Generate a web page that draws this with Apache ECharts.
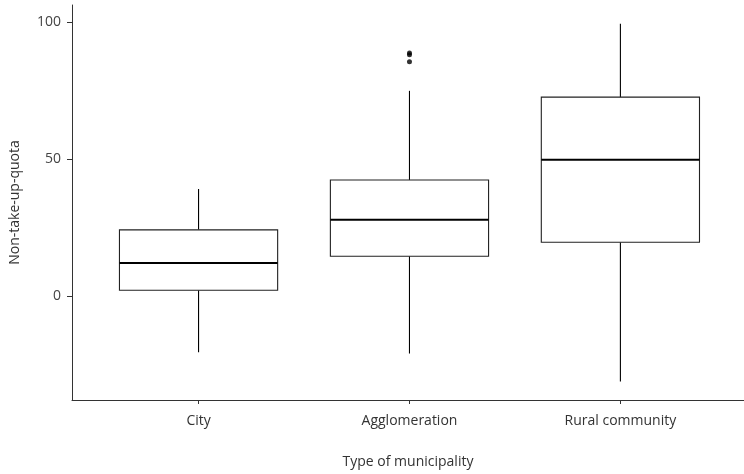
<!DOCTYPE html>
<html>
<head>
<meta charset="utf-8">
<script src="https://cdn.jsdelivr.net/npm/echarts@6/dist/echarts.min.js"></script>
<style>html,body{margin:0;padding:0;background:#fff}#c{width:744px;height:474px}</style>
</head>
<body>
<div id="c"></div>
<script>
var categories = ["City", "Agglomeration", "Rural community"];
var lowWhisker = [-20.3, -20.8, -31.0];
var q1 = [2.3, 14.7, 19.8];
var median = [12.2, 28.0, 49.9];
var q3 = [24.3, 42.5, 72.7];
var highWhisker = [39.2, 75.0, 99.5];
var outlierCategory = [2, 2, 2];
var outlierValue = [88.8, 88.2, 85.6];
var yTicks = [0, 50, 100];

var boxData = categories.map(function (c, i) {
  return [i + 1, lowWhisker[i], q1[i], median[i], q3[i], highWhisker[i]];
});
var outData = outlierValue.map(function (v, i) { return [outlierCategory[i], v]; });

var FONT = "Open Sans";
var chart = echarts.init(document.getElementById('c'));
chart.setOption({
  animation: false,
  grid: { left: 72, right: 0, top: 5, bottom: 74, containLabel: false },
  xAxis: {
    type: 'value', min: 0.4, max: 3.586,
    name: 'Type of municipality', nameLocation: 'middle', nameGap: 55,
    nameTextStyle: { fontFamily: FONT, fontSize: 14, color: '#333' },
    axisLine: { show: true, onZero: false, lineStyle: { color: '#333', width: 1 } },
    axisTick: { show: true, length: 4, customValues: [1, 2, 3], lineStyle: { color: '#333' } },
    axisLabel: { customValues: [1, 2, 3], fontFamily: FONT, fontSize: 14, color: '#333', margin: 14,
      formatter: function (v) { return categories[Math.round(v) - 1] || ''; } },
    splitLine: { show: false }
  },
  yAxis: {
    type: 'value', min: -37.75, max: 106.3,
    name: 'Non-take-up-quota', nameLocation: 'middle', nameGap: 50,
    nameTextStyle: { fontFamily: FONT, fontSize: 14, color: '#333' },
    axisLine: { show: true, onZero: false, lineStyle: { color: '#333', width: 1 } },
    axisTick: { show: true, length: 5, customValues: yTicks, lineStyle: { color: '#333' } },
    axisLabel: { customValues: yTicks, fontFamily: FONT, fontSize: 14, color: '#444', margin: 11 },
    splitLine: { show: false }
  },
  series: [{
    type: 'custom',
    data: boxData,
    encode: { x: 0, y: [1, 2, 3, 4, 5] },
    renderItem: function (params, api) {
      var x = api.value(0);
      var pL = api.coord([x - 0.375, 0]);
      var pR = api.coord([x + 0.375, 0]);
      var cx = api.coord([x, 0])[0];
      var yLow = api.coord([x, api.value(1)])[1];
      var yQ1 = api.coord([x, api.value(2)])[1];
      var yMed = api.coord([x, api.value(3)])[1];
      var yQ3 = api.coord([x, api.value(4)])[1];
      var yHigh = api.coord([x, api.value(5)])[1];
      var stroke = { stroke: '#000', lineWidth: 1.1, fill: null };
      return {
        type: 'group',
        children: [
          { type: 'line', shape: { x1: cx, y1: yHigh, x2: cx, y2: yQ3 }, style: stroke },
          { type: 'line', shape: { x1: cx, y1: yQ1, x2: cx, y2: yLow }, style: stroke },
          { type: 'rect', shape: { x: pL[0], y: yQ3, width: pR[0] - pL[0], height: yQ1 - yQ3 },
            style: { stroke: '#222', lineWidth: 1.1, fill: '#fff' } },
          { type: 'line', shape: { x1: pL[0], y1: yMed, x2: pR[0], y2: yMed },
            style: { stroke: '#000', lineWidth: 2 } }
        ]
      };
    }
  }, {
    type: 'scatter',
    data: outData,
    symbol: 'circle', symbolSize: 5,
    itemStyle: { color: '#000' }
  }]
});
</script>
</body>
</html>
